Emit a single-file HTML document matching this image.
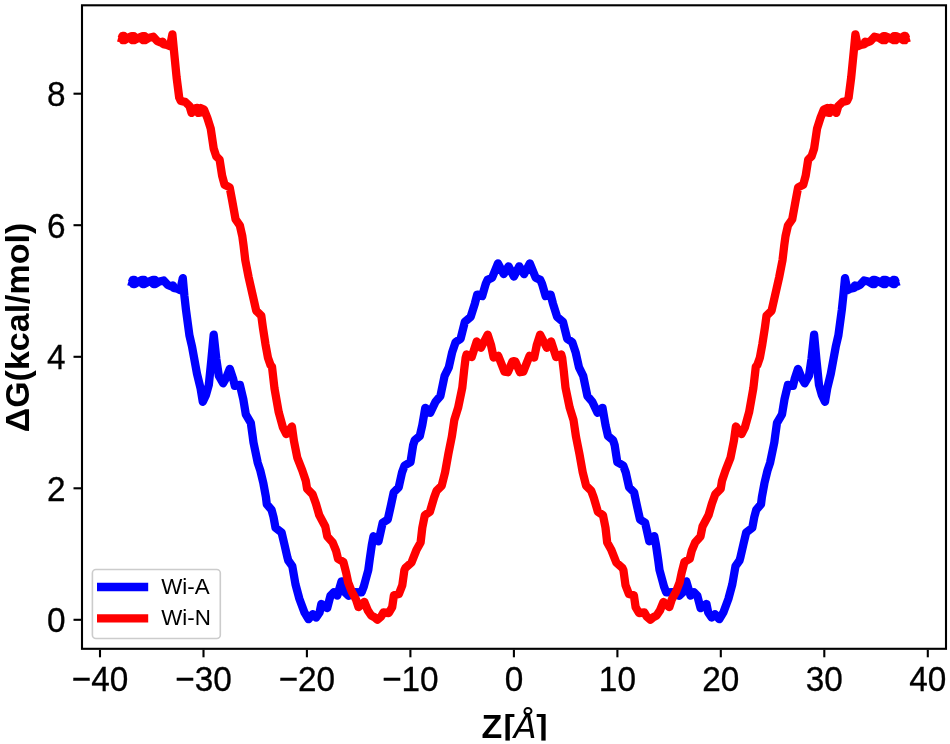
<!DOCTYPE html>
<html lang="en">
<head>
<meta charset="utf-8">
<title>Free energy profile</title>
<style>
html,body{margin:0;padding:0;background:#fff;}
body{width:950px;height:744px;overflow:hidden;}
svg{display:block;}
text{font-family:"Liberation Sans",Arial,Helvetica,sans-serif;fill:#000;}
.tk{font-size:34px;stroke:#000;stroke-width:0.3px;}
.lg{font-size:21.5px;}
.ax{font-size:34px;font-weight:bold;}
.it{font-family:"DejaVu Sans",sans-serif;font-style:italic;font-weight:normal;font-size:33.5px;}
</style>
</head>
<body>
<svg width="950" height="744" viewBox="0 0 950 744">
<rect x="0" y="0" width="950" height="744" fill="#ffffff"/>
<path d="M128.5,281.2 L131.9,282.3 L132.8,279.8 L134.2,279.8 L133.2,284.0 L134.7,284.0 L138.2,281.7 L142.2,279.9 L144.2,279.9 L142.5,284.0 L144.5,284.0 L148.8,281.6 L153.0,280.0 L155.0,280.0 L153.3,284.0 L155.3,284.0 L159.4,281.5 L163.7,280.5 L167.8,285.0 L170.8,286.3 L173.0,285.5 L173.7,288.0 L177.3,288.8 L180.3,290.1 L182.8,278.1 L184.4,295.9 L186.0,310.0 L189.4,335.3 L192.1,346.9 L197.0,373.8 L200.6,388.5 L202.8,401.8 L206.0,395.0 L208.8,385.0 L211.3,360.5 L213.7,334.6 L216.3,358.8 L218.8,375.7 L223.1,383.3 L226.4,377.4 L229.8,368.9 L233.2,379.1 L234.8,385.8 L239.9,384.9 L243.3,399.3 L245.8,414.4 L250.8,422.8 L252.5,435.0 L253.5,442.5 L257.7,462.7 L260.3,470.5 L263.4,483.4 L265.9,496.9 L266.8,504.3 L271.5,509.7 L273.5,517.0 L275.5,527.8 L281.6,532.5 L284.3,543.9 L287.4,557.4 L288.3,560.5 L292.3,566.1 L295.5,584.4 L299.4,598.9 L304.4,612.4 L308.6,619.2 L312.8,614.1 L316.2,617.5 L319.6,612.4 L321.3,604.0 L327.2,608.2 L330.5,595.6 L333.9,592.2 L337.3,595.6 L341.5,581.3 L344.8,592.2 L348.8,595.8 L354.7,592.2 L361.6,592.4 L363.7,586.8 L365.3,581.0 L368.3,570.0 L369.6,560.2 L371.8,545.0 L373.5,536.2 L378.5,541.3 L382.7,522.7 L387.8,519.4 L391.2,504.2 L393.7,492.4 L398.7,487.4 L402.1,472.2 L404.6,465.5 L410.5,462.1 L413.1,445.3 L414.7,440.2 L419.8,436.0 L422.3,425.1 L425.3,407.8 L430.3,412.8 L435.4,401.9 L440.4,396.0 L444.6,375.8 L448.8,367.4 L452.2,352.2 L455.6,342.1 L460.6,338.7 L464.8,321.9 L470.7,316.8 L474.9,303.4 L477.2,294.6 L482.2,296.0 L485.8,283.7 L487.5,279.9 L492.1,277.8 L498.0,263.4 L503.7,274.1 L508.5,266.3 L513.9,276.6 L519.3,266.3 L524.1,274.1 L529.8,263.4 L535.7,277.8 L540.3,279.9 L542.0,283.7 L545.6,296.0 L550.6,294.6 L552.9,303.4 L557.1,316.8 L563.0,321.9 L567.2,338.7 L572.2,342.1 L575.6,352.2 L579.0,367.4 L583.2,375.8 L587.4,396.0 L592.4,401.9 L597.5,412.8 L602.5,407.8 L605.5,425.1 L608.0,436.0 L613.1,440.2 L614.7,445.3 L617.3,462.1 L623.2,465.5 L625.7,472.2 L629.1,487.4 L634.1,492.4 L636.6,504.2 L640.0,519.4 L645.1,522.7 L649.3,541.3 L654.3,536.2 L656.0,545.0 L658.2,560.2 L659.5,570.0 L662.5,581.0 L664.1,586.8 L666.2,592.4 L673.1,592.2 L679.0,595.8 L683.0,592.2 L686.3,581.3 L690.5,595.6 L693.9,592.2 L697.3,595.6 L700.6,608.2 L706.5,604.0 L708.2,612.4 L711.6,617.5 L715.0,614.1 L719.2,619.2 L723.4,612.4 L728.4,598.9 L732.3,584.4 L735.5,566.1 L739.5,560.5 L740.4,557.4 L743.5,543.9 L746.2,532.5 L752.3,527.8 L754.3,517.0 L756.3,509.7 L761.0,504.3 L761.9,496.9 L764.4,483.4 L767.5,470.5 L770.1,462.7 L774.3,442.5 L775.3,435.0 L777.0,422.8 L782.0,414.4 L784.5,399.3 L787.9,384.9 L793.0,385.8 L794.6,379.1 L798.0,368.9 L801.4,377.4 L804.7,383.3 L809.0,375.7 L811.5,358.8 L814.1,334.6 L816.5,360.5 L819.0,385.0 L821.8,395.0 L825.0,401.8 L827.2,388.5 L830.8,373.8 L835.7,346.9 L838.4,335.3 L841.8,310.0 L843.3,295.9 L845.0,278.1 L847.4,290.1 L850.4,288.8 L854.1,288.0 L854.8,285.5 L856.9,286.3 L860.0,285.0 L864.1,280.5 L868.3,281.5 L872.4,284.0 L874.4,284.0 L872.8,280.0 L874.8,280.0 L879.0,281.6 L883.2,284.0 L885.2,284.0 L883.5,279.9 L885.5,279.9 L889.5,281.7 L893.1,284.0 L894.5,284.0 L893.5,279.8 L894.9,279.8 L895.8,282.3 L899.3,281.2" fill="none" stroke="#0000ff" stroke-width="8.3" stroke-linejoin="round" stroke-linecap="butt"/>
<path d="M118.2,37.5 L121.6,38.5 L122.5,36.0 L123.9,36.0 L122.9,40.2 L124.3,40.2 L127.9,37.9 L131.9,36.1 L133.9,36.1 L132.2,40.2 L134.2,40.2 L138.4,37.8 L142.7,36.2 L144.7,36.2 L143.0,40.2 L145.0,40.2 L149.1,37.7 L153.3,36.7 L157.4,41.2 L160.5,42.5 L162.7,41.7 L163.3,44.2 L167.0,45.0 L170.0,46.3 L172.4,34.3 L174.1,52.1 L176.6,77.4 L179.2,97.6 L180.8,101.0 L185.0,101.8 L189.5,106.0 L191.5,112.9 L194.0,108.5 L197.5,107.8 L198.5,112.9 L201.0,112.5 L200.5,108.0 L204.0,109.5 L207.3,117.8 L210.7,128.4 L213.7,148.6 L216.2,156.2 L219.6,159.6 L222.1,175.6 L224.6,184.8 L229.7,187.4 L232.2,200.8 L235.6,219.4 L239.8,225.3 L242.3,236.2 L243.5,245.0 L245.3,260.2 L248.6,277.1 L252.8,295.6 L256.2,310.7 L261.3,315.8 L262.9,327.6 L265.5,344.4 L268.0,357.9 L270.5,365.0 L272.0,366.7 L274.5,388.6 L278.7,412.2 L282.9,427.4 L286.3,434.1 L291.9,426.5 L293.9,440.8 L297.3,457.7 L302.3,470.5 L305.8,480.8 L307.1,488.8 L312.5,494.2 L315.9,503.6 L319.2,515.0 L325.3,526.5 L327.3,536.5 L332.7,542.6 L336.0,550.6 L338.0,558.7 L343.4,562.1 L346.2,573.0 L348.2,582.6 L351.8,591.8 L356.0,599.5 L358.5,607.1 L364.4,602.0 L367.8,610.4 L371.2,615.5 L374.5,617.2 L377.5,619.7 L381.3,616.3 L383.4,612.5 L388.8,613.0 L392.2,607.1 L393.9,595.3 L398.9,594.0 L402.3,585.2 L404.4,570.0 L405.5,567.8 L411.4,562.7 L416.4,550.1 L420.6,542.5 L422.3,527.8 L424.8,515.2 L429.9,511.8 L434.1,497.5 L436.6,490.7 L441.7,485.7 L445.1,472.2 L448.4,453.7 L451.8,436.8 L454.3,420.0 L458.1,407.8 L462.3,387.6 L464.1,370.5 L465.6,357.9 L466.6,354.5 L471.7,357.1 L476.7,341.5 L480.9,347.8 L487.7,334.7 L491.1,345.3 L493.6,357.5 L498.2,355.8 L504.5,371.6 L507.9,372.2 L512.5,361.3 L513.9,361.2 L515.3,361.3 L519.9,372.2 L523.3,371.6 L529.6,355.8 L534.2,357.5 L536.7,345.3 L540.1,334.7 L546.9,347.8 L551.1,341.5 L556.1,357.1 L561.2,354.5 L562.2,357.9 L563.7,370.5 L565.5,387.6 L569.7,407.8 L573.5,420.0 L576.0,436.8 L579.4,453.7 L582.7,472.2 L586.1,485.7 L591.2,490.7 L593.7,497.5 L597.9,511.8 L603.0,515.2 L605.5,527.8 L607.2,542.5 L611.4,550.1 L616.4,562.7 L622.3,567.8 L623.4,570.0 L625.5,585.2 L628.9,594.0 L633.9,595.3 L635.6,607.1 L639.0,613.0 L644.4,612.5 L646.5,616.3 L650.3,619.7 L653.3,617.2 L656.6,615.5 L660.0,610.4 L663.4,602.0 L669.3,607.1 L671.8,599.5 L676.0,591.8 L679.6,582.6 L681.6,573.0 L684.4,562.1 L689.8,558.7 L691.8,550.6 L695.1,542.6 L700.5,536.5 L702.5,526.5 L708.6,515.0 L711.9,503.6 L715.3,494.2 L720.7,488.8 L722.0,480.8 L725.5,470.5 L730.5,457.7 L733.9,440.8 L735.9,426.5 L741.5,434.1 L744.9,427.4 L749.1,412.2 L753.3,388.6 L755.8,366.7 L757.3,365.0 L759.8,357.9 L762.3,344.4 L764.9,327.6 L766.5,315.8 L771.6,310.7 L775.0,295.6 L779.2,277.1 L782.5,260.2 L784.3,245.0 L785.5,236.2 L788.0,225.3 L792.2,219.4 L795.6,200.8 L798.1,187.4 L803.2,184.8 L805.7,175.6 L808.2,159.6 L811.6,156.2 L814.1,148.6 L817.1,128.4 L820.5,117.8 L823.8,109.5 L827.3,108.0 L826.8,112.5 L829.3,112.9 L830.3,107.8 L833.8,108.5 L836.3,112.9 L838.3,106.0 L842.8,101.8 L847.0,101.0 L848.6,97.6 L851.2,77.4 L853.7,52.1 L855.4,34.3 L857.8,46.3 L860.8,45.0 L864.5,44.2 L865.1,41.7 L867.3,42.5 L870.4,41.2 L874.5,36.7 L878.7,37.7 L882.8,40.2 L884.8,40.2 L883.1,36.2 L885.1,36.2 L889.4,37.8 L893.6,40.2 L895.6,40.2 L893.9,36.1 L895.9,36.1 L899.9,37.9 L903.5,40.2 L904.9,40.2 L903.9,36.0 L905.3,36.0 L906.2,38.5 L909.6,37.5" fill="none" stroke="#ff0000" stroke-width="8.3" stroke-linejoin="round" stroke-linecap="butt"/>
<rect x="82.0" y="5.3" width="864.0" height="643.5" fill="none" stroke="#000" stroke-width="2.1"/>
<line x1="100.0" y1="649.8" x2="100.0" y2="657.3" stroke="#000" stroke-width="2.1"/>
<text transform="translate(100.0,690.6) scale(0.98,1.055)" text-anchor="middle" class="tk">−40</text>
<line x1="203.5" y1="649.8" x2="203.5" y2="657.3" stroke="#000" stroke-width="2.1"/>
<text transform="translate(203.5,690.6) scale(0.98,1.055)" text-anchor="middle" class="tk">−30</text>
<line x1="306.9" y1="649.8" x2="306.9" y2="657.3" stroke="#000" stroke-width="2.1"/>
<text transform="translate(306.9,690.6) scale(0.98,1.055)" text-anchor="middle" class="tk">−20</text>
<line x1="410.4" y1="649.8" x2="410.4" y2="657.3" stroke="#000" stroke-width="2.1"/>
<text transform="translate(410.4,690.6) scale(0.98,1.055)" text-anchor="middle" class="tk">−10</text>
<line x1="513.9" y1="649.8" x2="513.9" y2="657.3" stroke="#000" stroke-width="2.1"/>
<text transform="translate(513.9,690.6) scale(0.98,1.055)" text-anchor="middle" class="tk">0</text>
<line x1="617.4" y1="649.8" x2="617.4" y2="657.3" stroke="#000" stroke-width="2.1"/>
<text transform="translate(617.4,690.6) scale(0.98,1.055)" text-anchor="middle" class="tk">10</text>
<line x1="720.8" y1="649.8" x2="720.8" y2="657.3" stroke="#000" stroke-width="2.1"/>
<text transform="translate(720.8,690.6) scale(0.98,1.055)" text-anchor="middle" class="tk">20</text>
<line x1="824.3" y1="649.8" x2="824.3" y2="657.3" stroke="#000" stroke-width="2.1"/>
<text transform="translate(824.3,690.6) scale(0.98,1.055)" text-anchor="middle" class="tk">30</text>
<line x1="927.8" y1="649.8" x2="927.8" y2="657.3" stroke="#000" stroke-width="2.1"/>
<text transform="translate(927.8,690.6) scale(0.98,1.055)" text-anchor="middle" class="tk">40</text>
<line x1="73.5" y1="619.8" x2="81.0" y2="619.8" stroke="#000" stroke-width="2.1"/>
<text transform="translate(65.5,632.2) scale(0.98,1.055)" text-anchor="end" class="tk">0</text>
<line x1="73.5" y1="488.3" x2="81.0" y2="488.3" stroke="#000" stroke-width="2.1"/>
<text transform="translate(65.5,500.7) scale(0.98,1.055)" text-anchor="end" class="tk">2</text>
<line x1="73.5" y1="356.8" x2="81.0" y2="356.8" stroke="#000" stroke-width="2.1"/>
<text transform="translate(65.5,369.2) scale(0.98,1.055)" text-anchor="end" class="tk">4</text>
<line x1="73.5" y1="225.2" x2="81.0" y2="225.2" stroke="#000" stroke-width="2.1"/>
<text transform="translate(65.5,237.6) scale(0.98,1.055)" text-anchor="end" class="tk">6</text>
<line x1="73.5" y1="93.7" x2="81.0" y2="93.7" stroke="#000" stroke-width="2.1"/>
<text transform="translate(65.5,106.1) scale(0.98,1.055)" text-anchor="end" class="tk">8</text>
<rect x="92.4" y="569.5" width="127.9" height="69" rx="3.5" ry="3.5" fill="#fff" fill-opacity="0.8" stroke="#cccccc" stroke-width="1.6"/>
<line x1="97" y1="587" x2="148.2" y2="587" stroke="#0000ff" stroke-width="8.3"/>
<line x1="97" y1="618.4" x2="148.2" y2="618.4" stroke="#ff0000" stroke-width="8.3"/>
<text transform="translate(161.2,594.4) scale(1.04,1)" class="lg">Wi-A</text>
<text transform="translate(161.2,625.2) scale(1.04,1)" class="lg">Wi-N</text>
<text transform="translate(29,327.5) rotate(-90)" text-anchor="middle" class="ax">ΔG(kcal/mol)</text>
<text x="481.6" y="738.1" class="ax">Z<tspan dx="1.0">[</tspan><tspan class="it" dx="-0.9">Å</tspan><tspan dx="-0.6">]</tspan></text>
<rect x="440" y="740.6" width="150" height="4" fill="#ffffff"/>
</svg>
</body>
</html>
